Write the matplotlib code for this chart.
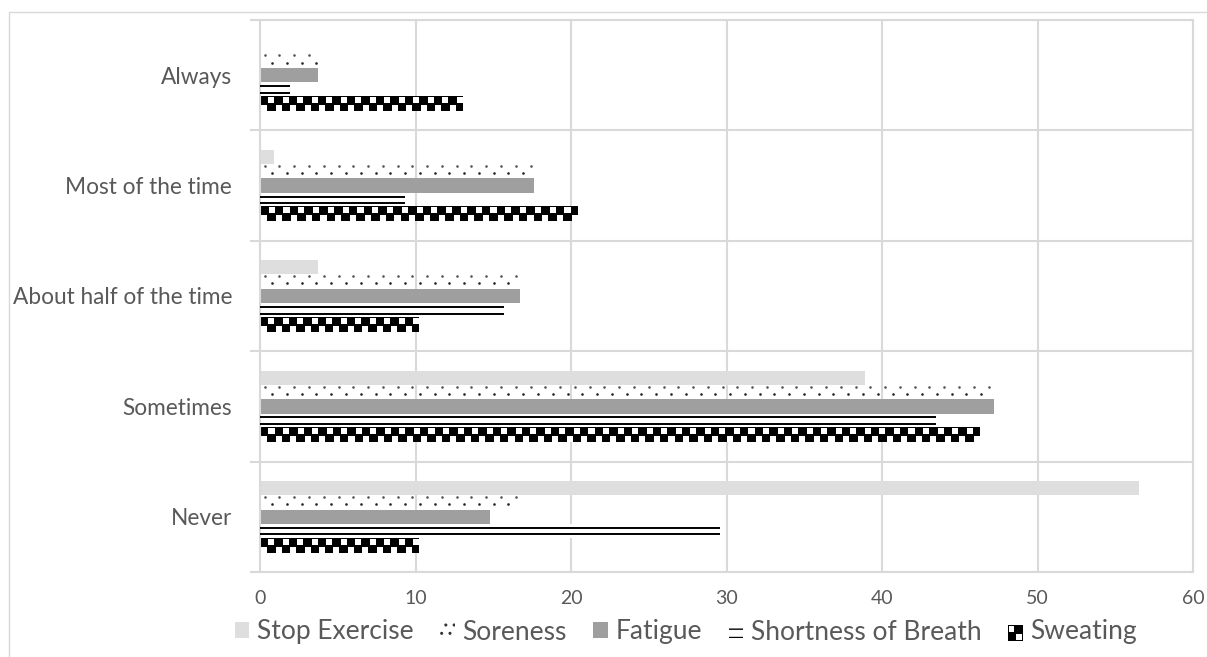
import numpy as np
import matplotlib.pyplot as plt
from matplotlib.patches import Patch, Rectangle

# data (percent of respondents)
categories = ['Never', 'Sometimes', 'About half of the time', 'Most of the time', 'Always']
series_names = ['Stop Exercise', 'Soreness', 'Fatigue', 'Shortness of Breath', 'Sweating']
stop_exercise = [56.5, 38.9, 3.7, 0.9, 0.0]
soreness = [16.7, 47.2, 16.7, 17.6, 3.7]
fatigue = [14.8, 47.2, 16.7, 17.6, 3.7]
shortness = [29.6, 43.5, 15.7, 9.3, 1.9]
sweating = [10.2, 46.3, 10.2, 20.4, 13.0]
x_ticks = [0, 10, 20, 30, 40, 50, 60]

text_color = '#595959'
grid_color = '#d9d9d9'
plt.rcParams['font.family'] = ['Lato', 'DejaVu Sans']


def checker_tile(rows, cols, sub=6):
    # black cells and white cells with a thin dark rim, like the Excel pattern
    cell_w = np.zeros((sub, sub))
    cell_w[1:, 1:] = 1
    cell_b = np.zeros((sub, sub))
    img = np.zeros((rows * sub, cols * sub))
    for r in range(rows):
        for c in range(cols):
            img[r * sub:(r + 1) * sub, c * sub:(c + 1) * sub] = cell_w if (r + c) % 2 else cell_b
    return img


class CheckerHandler:
    # small checkerboard box for the legend
    def legend_artist(self, legend, orig_handle, fontsize, handlebox):
        x0, y0 = handlebox.xdescent, handlebox.ydescent
        w, h = handlebox.width, handlebox.height
        r = Rectangle((x0, y0), w, h, facecolor='black', edgecolor='none',
                      transform=handlebox.get_transform())
        handlebox.add_artist(r)
        for i in range(2):
            for j in range(2):
                if (i + j) % 2:
                    sq = Rectangle((x0 + i * w / 2 + w * 0.07, y0 + j * h / 2 + h * 0.07),
                                   w * 0.36, h * 0.36, facecolor='white', edgecolor='none',
                                   transform=handlebox.get_transform())
                    handlebox.add_artist(sq)
        return r


fig = plt.figure(figsize=(12.07, 6.57), dpi=100)
ax = fig.add_axes([260 / 1207, 1 - 572 / 657, (1193 - 260) / 1207, (572 - 20) / 657])

y = np.arange(len(categories))
h = 0.13

ax.barh(y + 2 * h, stop_exercise, h, color='#dedede', zorder=2)

# soreness: sparse dot pattern, two staggered rows
for yi, val in zip(y, soreness):
    yc = yi + h
    top = np.arange(0.3, val, 0.95)
    low = np.arange(0.78, val, 0.95)
    ax.scatter(top, np.full(len(top), yc + 0.38 * h), s=3.5, color='#555555',
               linewidths=0, zorder=3)
    ax.scatter(low, np.full(len(low), yc - 0.12 * h), s=3.5, color='#222222',
               linewidths=0, zorder=3)

ax.barh(y, fatigue, h, color='#9f9f9f', zorder=2)

# shortness of breath: two thin black lines per bar
sob = ax.barh(y - h, shortness, h, color='white', zorder=2)
for rect in sob:
    yc = rect.get_y() + rect.get_height() / 2
    ax.hlines([yc - 0.23 * h, yc + 0.23 * h], 0, rect.get_width(),
              color='black', lw=1.4, zorder=3)

# sweating: checkerboard fill
for yi, val in zip(y, sweating):
    cols = max(1, int(round(val / 0.47)))
    ax.imshow(checker_tile(2, cols), extent=(0, val, yi - 2.5 * h, yi - 1.5 * h),
              cmap='gray', vmin=0, vmax=1, interpolation='nearest', aspect='auto',
              zorder=2)

ax.set_xlim(0, 60)
ax.set_ylim(-0.5, len(categories) - 0.5)
ax.set_xticks(x_ticks)
ax.set_yticks(y, categories)
ax.set_yticks(np.arange(-0.5, len(categories), 1), minor=True)

ax.tick_params(axis='y', which='major', length=0, pad=20, labelsize=16.3,
               labelcolor=text_color)
ax.tick_params(axis='y', which='minor', length=7, width=1.5, color=grid_color)
ax.tick_params(axis='x', length=0, pad=13, labelsize=14, labelcolor=text_color)

ax.grid(axis='x', color=grid_color, lw=1.5, zorder=0)
ax.grid(axis='y', which='minor', color=grid_color, lw=1.5, zorder=0)
ax.set_axisbelow(True)
for s in ax.spines.values():
    s.set_color(grid_color)
    s.set_linewidth(1.5)

# outer chart border
fig.add_artist(Rectangle((9 / 1207, -0.05), 1.1, 1 - 12 / 657 + 0.05,
                         transform=fig.transFigure, fill=False,
                         edgecolor=grid_color, lw=1))

handles = [
    Patch(facecolor='#dedede', edgecolor='none'),
    Patch(facecolor='white', edgecolor='#333333', linewidth=0, hatch='..'),
    Patch(facecolor='#9f9f9f', edgecolor='none'),
    Patch(facecolor='white', edgecolor='black', linewidth=0, hatch='--'),
    Patch(facecolor='black'),
]
fig.legend(handles, series_names, loc='center', bbox_to_anchor=(686 / 1207, 1 - 632 / 657),
           ncol=5, frameon=False, fontsize=19, labelcolor=text_color,
           handlelength=0.55, handleheight=0.55, handletextpad=0.3, columnspacing=1.0,
           handler_map={handles[4]: CheckerHandler()})

plt.savefig('out.png', dpi=100)
